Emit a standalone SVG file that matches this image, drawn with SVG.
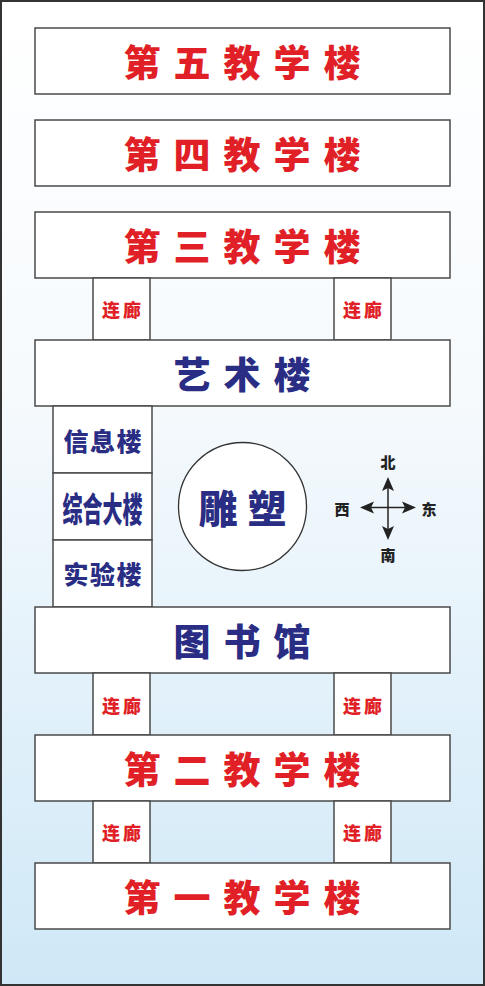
<svg xmlns="http://www.w3.org/2000/svg" width="485" height="986" viewBox="0 0 485 986">
<defs>
<linearGradient id="bg" x1="0" y1="0" x2="0" y2="1">
<stop offset="0" stop-color="#ffffff"/>
<stop offset="0.4" stop-color="#f6fafd"/>
<stop offset="1" stop-color="#cfe8f7"/>
</linearGradient>
<style>
.b{fill:#fff;stroke:#4a4a4a;stroke-width:1.5}
.t{font-family:"Noto Sans CJK SC","Noto Sans CJK TC",sans-serif;font-weight:900;text-anchor:middle;dominant-baseline:central}
.red{fill:#e01f27}
.blue{fill:#2a2d84}
.big{font-size:37px}
.lg{font-size:18px}
.sd{font-size:25px}
.cp{font-size:15px;fill:#222}
.ar{fill:#222}
</style>
</defs>
<rect x="1" y="1" width="483" height="984" fill="url(#bg)" stroke="#333" stroke-width="2"/>

<g id="b5"><rect class="b" x="35" y="28" width="415" height="66"/><text class="t red big" x="142 192 242 292 342" y="61">第五教学楼</text></g>
<g id="b4"><rect class="b" x="35" y="120" width="415" height="66"/><text class="t red big" x="142 192 242 292 342" y="153">第四教学楼</text></g>
<g id="b3"><rect class="b" x="35" y="212" width="415" height="66"/><text class="t red big" x="142 192 242 292 342" y="245">第三教学楼</text></g>

<g id="c3l"><rect class="b" x="93" y="278" width="57" height="62"/><text class="t red lg" x="111 132" y="309">连廊</text></g>
<g id="c3r"><rect class="b" x="334" y="278" width="57" height="62"/><text class="t red lg" x="352 373" y="309">连廊</text></g>

<g id="art"><rect class="b" x="35" y="340" width="415" height="66"/><text class="t blue big" x="192 242 292" y="373">艺术楼</text></g>

<g id="info"><rect class="b" x="53" y="406" width="99" height="67"/><text class="t blue sd" x="76 102.5 129" y="440">信息楼</text></g>
<g id="zonghe"><rect class="b" x="53" y="473" width="99" height="67"/><text class="t blue" style="font-size:34px" x="102.5" y="507" textLength="80" lengthAdjust="spacingAndGlyphs">综合大楼</text></g>
<g id="shiyan"><rect class="b" x="53" y="540" width="99" height="67"/><text class="t blue sd" x="76 102.5 129" y="573">实验楼</text></g>

<g id="sculpture"><circle cx="242.5" cy="506.5" r="64" fill="#fff" stroke="#333" stroke-width="1.3"/><text class="t blue" style="font-size:39px" x="218 267" y="506">雕塑</text></g>

<g id="compass">
<line x1="388" y1="485" x2="388" y2="532" stroke="#222" stroke-width="1.5"/>
<line x1="368" y1="507.5" x2="409" y2="507.5" stroke="#222" stroke-width="1.5"/>
<polygon class="ar" points="388,477 382,491 388,488 394,491"/>
<polygon class="ar" points="388,540 382,526 388,529 394,526"/>
<polygon class="ar" points="360,507.5 374,501.5 371,507.5 374,513.5"/>
<polygon class="ar" points="416,507.5 402,501.5 405,507.5 402,513.5"/>
<text class="t cp" x="388" y="461">北</text>
<text class="t cp" x="388" y="554">南</text>
<text class="t cp" x="342" y="508">西</text>
<text class="t cp" x="429" y="508">东</text>
</g>

<g id="lib"><rect class="b" x="35" y="607" width="415" height="66"/><text class="t blue big" x="192 242 292" y="640">图书馆</text></g>

<g id="c2l"><rect class="b" x="93" y="673" width="57" height="62"/><text class="t red lg" x="111 132" y="705">连廊</text></g>
<g id="c2r"><rect class="b" x="334" y="673" width="57" height="62"/><text class="t red lg" x="352 373" y="705">连廊</text></g>

<g id="b2"><rect class="b" x="35" y="735" width="415" height="66"/><text class="t red big" x="142 192 242 292 342" y="768">第二教学楼</text></g>

<g id="c1l"><rect class="b" x="93" y="801" width="57" height="62"/><text class="t red lg" x="111 132" y="832">连廊</text></g>
<g id="c1r"><rect class="b" x="334" y="801" width="57" height="62"/><text class="t red lg" x="352 373" y="832">连廊</text></g>

<g id="b1"><rect class="b" x="35" y="863" width="415" height="66"/><text class="t red big" x="142 192 242 292 342" y="896">第一教学楼</text></g>
</svg>
